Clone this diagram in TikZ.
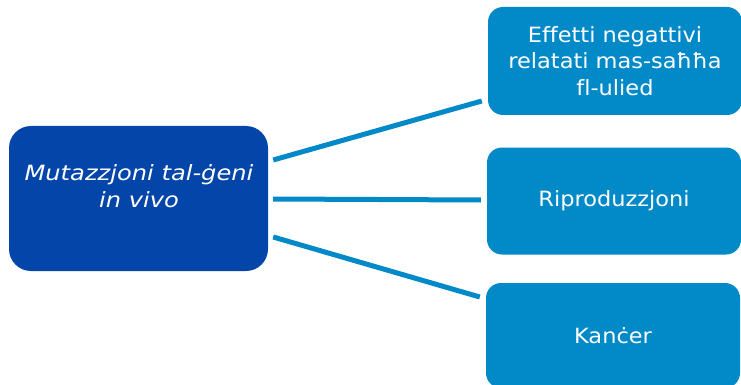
\documentclass[tikz,border=0pt]{standalone}
\usepackage{fontspec}
\setmainfont{DejaVu Sans}[FakeStretch=1.07,Ligatures=NoCommon]
\newfontfamily\leftfont{DejaVu Sans}[FakeStretch=1.15,Ligatures=NoCommon]
\begin{document}
\begin{tikzpicture}[x=1pt,y=-1pt,
  darkbox/.style={fill=darkblue,draw=none,rounded corners=22pt,minimum width=259pt,minimum height=145pt,inner sep=0pt},
  lightbox/.style={fill=lightblue,draw=none,rounded corners=15pt,minimum width=254pt,inner sep=0pt,text=white,align=center,font=\fontsize{21}{26.5}\selectfont},
  conn/.style={draw=lightblue,line width=5pt}]
\definecolor{darkblue}{HTML}{0445A9}
\definecolor{lightblue}{HTML}{0189C8}
\useasboundingbox (0,0) rectangle (741,385);
\clip (0,0) rectangle (741,385);
\node[darkbox] (L) at (138.5,198.5) {};
\node[text=white,align=center,font=\leftfont\fontsize{21}{26.5}\selectfont\itshape] (Lt) at (139,186) {Mutazzjoni tal-ġeni\\in vivo};
\node[lightbox,minimum height=108pt] (T) at (615,61) {Effetti negattivi\\relatati mas-saħħa\\fl-ulied};
\node[lightbox,minimum height=107pt] (M) at (614,201) {Riproduzzjoni};
\node[lightbox,minimum height=105pt] (B) at (613,335.5) {Kanċer};
\draw[conn] ([shift={(5,-38.5)}]L.east) -- ([shift={(-6,40)}]T.west);
\draw[conn] ([shift={(5,0.5)}]L.east) -- ([shift={(-6,-1)}]M.west);
\draw[conn] ([shift={(5,38.5)}]L.east) -- ([shift={(-6,-38.5)}]B.west);
\end{tikzpicture}
\end{document}
